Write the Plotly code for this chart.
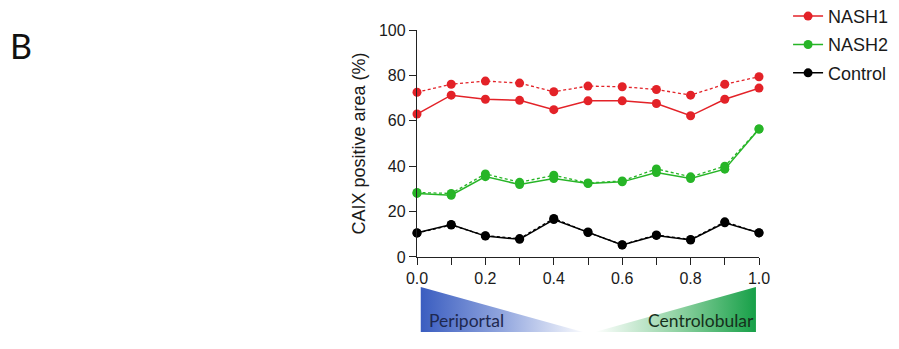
import plotly.graph_objects as go

x_pos = [0.0, 0.1, 0.2, 0.3, 0.4, 0.5, 0.6, 0.7, 0.8, 0.9, 1.0]

nash1_solid = [63.0, 71.3, 69.5, 69.0, 64.9, 68.8, 68.8, 67.6, 62.2, 69.5, 74.4]
nash1_dash = [72.6, 76.1, 77.5, 76.6, 72.8, 75.3, 75.0, 73.8, 71.3, 76.1, 79.4]
nash2_solid = [28.0, 27.2, 35.4, 31.9, 34.6, 32.4, 33.1, 37.2, 34.6, 38.7, 56.4]
nash2_dash = [28.4, 28.0, 36.6, 32.9, 36.0, 32.6, 33.5, 38.8, 35.3, 40.0, 56.4]
control_solid = [10.7, 14.3, 9.2, 7.8, 16.5, 11.0, 5.3, 9.5, 7.5, 15.1, 10.7]
control_dash = [10.5, 14.1, 9.4, 8.1, 17.0, 10.8, 5.4, 9.7, 7.7, 15.5, 10.6]

y_ticks = [0, 20, 40, 60, 80, 100]
x_ticks = [0.0, 0.2, 0.4, 0.6, 0.8, 1.0]
x_tick_labels = ["0.0", "0.2", "0.4", "0.6", "0.8", "1.0"]

series = [
    ("NASH1", "#e32228", nash1_solid, nash1_dash),
    ("NASH2", "#27b527", nash2_solid, nash2_dash),
    ("Control", "#000000", control_solid, control_dash),
]

# gradient bar polygons (decorative zone indicator)
peri_x = [0.011, 0.011, 0.485, 0.011]
peri_y = [1.0, 0.0, 0.0, 1.0]
centro_x = [0.52, 0.991, 0.991, 0.52]
centro_y = [0.0, 1.0, 0.0, 0.0]

fig = go.Figure()

for name, color, solid, dash in series:
    fig.add_trace(go.Scatter(
        x=x_pos, y=dash, mode="lines+markers", name=name, showlegend=False,
        line=dict(color=color, width=1.3, dash="3px,2.5px"),
        marker=dict(color=color, size=9), legendgroup=name, cliponaxis=False))
    fig.add_trace(go.Scatter(
        x=x_pos, y=solid, mode="lines+markers", name=name, showlegend=True,
        line=dict(color=color, width=1.5),
        marker=dict(color=color, size=9), legendgroup=name, cliponaxis=False))

fig.add_trace(go.Scatter(
    x=peri_x, y=peri_y, xaxis="x2", yaxis="y2", mode="lines", fill="toself",
    line=dict(width=0, color="rgba(0,0,0,0)"), showlegend=False, hoverinfo="skip",
    fillgradient=dict(type="horizontal",
                      colorscale=[[0, "#3a5dc0"], [0.5, "#94a8df"], [1, "#ffffff"]],
                      start=0.011, stop=0.5)))
fig.add_trace(go.Scatter(
    x=centro_x, y=centro_y, xaxis="x2", yaxis="y2", mode="lines", fill="toself",
    line=dict(width=0, color="rgba(0,0,0,0)"), showlegend=False, hoverinfo="skip",
    fillgradient=dict(type="horizontal",
                      colorscale=[[0, "#ffffff"], [0.5, "#94d4a6"], [1, "#17a048"]],
                      start=0.52, stop=0.991)))

axis_font = dict(family="Liberation Sans", size=16, color="#1a1a1a")

fig.update_layout(
    width=899, height=349,
    margin=dict(l=417, r=140, t=30, b=10, autoexpand=False),
    paper_bgcolor="white", plot_bgcolor="white",
    font=axis_font,
    xaxis=dict(domain=[0, 1], range=[0, 1.0], tickvals=x_ticks, ticktext=x_tick_labels,
               ticks="outside", ticklen=7, tickwidth=1.3, tickcolor="#222",
               showline=True, linecolor="#222", linewidth=1.3, showgrid=False,
               zeroline=False, anchor="y", tickfont=axis_font,
               minor=dict(dtick=0.1, ticks="outside", ticklen=7, tickwidth=1.3,
                          tickcolor="#222", showgrid=False)),
    yaxis=dict(domain=[0.2654, 1], range=[0, 100], tickvals=y_ticks,
               ticks="outside", ticklen=7, tickwidth=1.3, tickcolor="#222",
               showline=True, linecolor="#222", linewidth=1.3, showgrid=False,
               zeroline=False, tickfont=axis_font,
               title=dict(text="CAIX positive area (%)", font=dict(family="Liberation Sans", size=18, color="#1a1a1a"), standoff=8)),
    xaxis2=dict(domain=[0, 1], range=[0, 1], visible=False, anchor="y2"),
    yaxis2=dict(domain=[0.0227, 0.1683], range=[0, 1], visible=False, anchor="x2"),
    legend=dict(x=1.085, y=1.104, xanchor="left", yanchor="top",
                font=dict(family="Liberation Sans", size=18, color="#1a1a1a"),
                itemwidth=30, tracegroupgap=2, bgcolor="rgba(0,0,0,0)"),
    annotations=[
        dict(text="Periportal", xref="x2", yref="y2", x=0.028, y=0, yshift=-1,
             xanchor="left", yanchor="bottom", showarrow=False,
             font=dict(family="Lato", size=17.5, color="#1e2850")),
        dict(text="Centrolobular", xref="x2", yref="y2", x=0.99, y=0, yshift=-1,
             xanchor="right", yanchor="bottom", showarrow=False,
             font=dict(family="Lato", size=17.5, color="#16301c")),
        dict(text="B", xref="paper", yref="paper", x=-1.196, y=1.023, xanchor="left",
             yanchor="top", showarrow=False,
             font=dict(family="Lato", size=34, color="#111")),
    ],
)

fig.write_html("out.html", config={"displayModeBar": False},
               post_script="document.body.style.margin='0';document.body.style.padding='0';")
